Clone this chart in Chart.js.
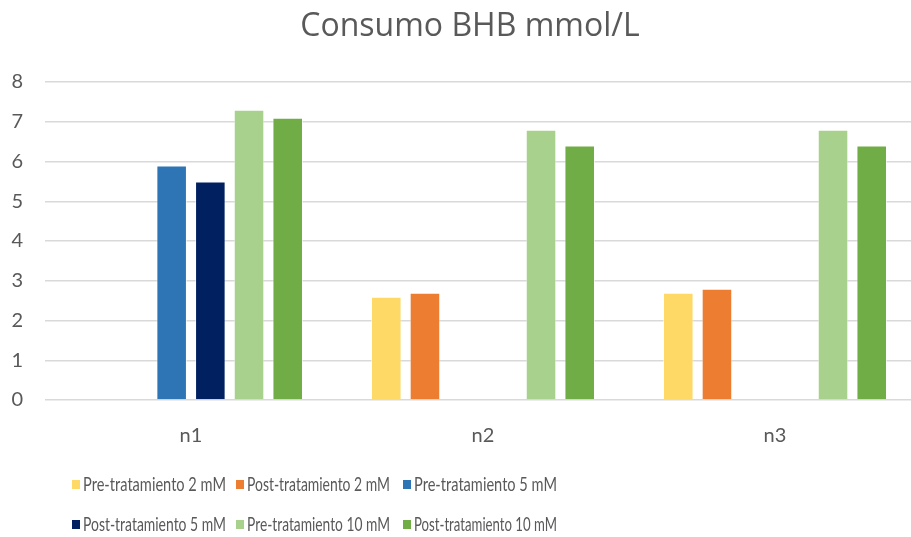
<!DOCTYPE html>
<html>
<head>
<meta charset="utf-8">
<script src="https://cdn.jsdelivr.net/npm/chart.js@4.4.1/dist/chart.umd.min.js"></script>
<style>
  html, body { margin: 0; padding: 0; background: #fff; overflow: hidden; }
  #wrap { width: 940px; height: 537px; position: relative; }
</style>
</head>
<body>
<div id="wrap"><canvas id="chart"></canvas></div>
<script>
// Consumo BHB chart data
const chartTitle = 'Consumo BHB mmol/L';
const categories = ['n1', 'n2', 'n3'];
const seriesLabels = [
    'Pre-tratamiento 2 mM',
    'Post-tratamiento 2 mM',
    'Pre-tratamiento 5 mM',
    'Post-tratamiento 5 mM',
    'Pre-tratamiento 10 mM',
    'Post-tratamiento 10 mM'
];
const pre2 = [null, 2.6, 2.7];
const post2 = [null, 2.7, 2.8];
const pre5 = [5.9, null, null];
const post5 = [5.5, null, null];
const pre10 = [7.3, 6.8, 6.8];
const post10 = [7.1, 6.4, 6.4];
const yTicks = [0, 1, 2, 3, 4, 5, 6, 7, 8];

const seriesValues = [pre2, post2, pre5, post5, pre10, post10];
const seriesColors = ['#FFD966', '#ED7D31', '#2E75B6', '#002060', '#A9D18E', '#70AD47'];

const textColor = '#595959';
const fontFamily = 'Lato, "Open Sans", sans-serif';
const legendFont = '19px "Liberation Sans Narrow", Lato, sans-serif';

// legend drawn in Excel-like columns (3 per row)
const legendColumns = [72, 236, 403];
const legendRows = [484, 524];

// title + legend drawn by hand so they sit where Excel put them
const excelDecor = {
    id: 'excelDecor',
    afterDraw(chart) {
        const ctx = chart.ctx;
        ctx.save();
        ctx.fillStyle = textColor;
        ctx.font = '32px "Open Sans", Lato, sans-serif';
        ctx.textAlign = 'center';
        ctx.textBaseline = 'middle';
        ctx.fillText(chartTitle, 470, 27);

        ctx.textAlign = 'left';
        ctx.font = legendFont;
        chart.data.datasets.forEach((ds, i) => {
            const x = legendColumns[i % 3];
            const y = legendRows[Math.floor(i / 3)];
            ctx.fillStyle = ds.backgroundColor;
            ctx.fillRect(x, y - 4, 8, 9);
            ctx.fillStyle = textColor;
            // squeeze a bit, Excel's Calibri is narrow
            const w = ctx.measureText(ds.label).width;
            ctx.fillText(ds.label, x + 11, y + 1, Math.min(w * 0.93, 143));
        });
        ctx.restore();
    }
};

const datasets = seriesLabels.map((label, i) => ({
    label: label,
    data: seriesValues[i],
    backgroundColor: seriesColors[i],
    borderColor: 'rgba(255, 255, 255, 0.5)',
    borderWidth: 1,
    categoryPercentage: 0.795,
    barPercentage: 0.79
}));

new Chart(document.getElementById('chart'), {
    type: 'bar',
    data: { labels: categories, datasets: datasets },
    options: {
        responsive: true,
        maintainAspectRatio: false,
        animation: false,
        layout: { padding: { left: 0, right: 19, top: 82, bottom: 77 } },
        plugins: {
            legend: { display: false },
            tooltip: { enabled: false },
            title: { display: false }
        },
        scales: {
            x: {
                grid: { display: false },
                border: { display: false },
                ticks: {
                    color: textColor,
                    padding: 16,
                    font: { family: fontFamily, size: 20 }
                },
                afterFit: scale => { scale.height = 60; }
            },
            y: {
                min: 0,
                max: 8,
                afterBuildTicks: scale => { scale.ticks = yTicks.map(v => ({ value: v })); },
                grid: { color: '#D9D9D9', lineWidth: 1.5, drawTicks: false },
                border: { display: false },
                ticks: {
                    color: textColor,
                    padding: 22,
                    font: { family: fontFamily, size: 20 }
                },
                afterFit: scale => { scale.width = 45; }
            }
        }
    },
    plugins: [excelDecor]
});
</script>
</body>
</html>
